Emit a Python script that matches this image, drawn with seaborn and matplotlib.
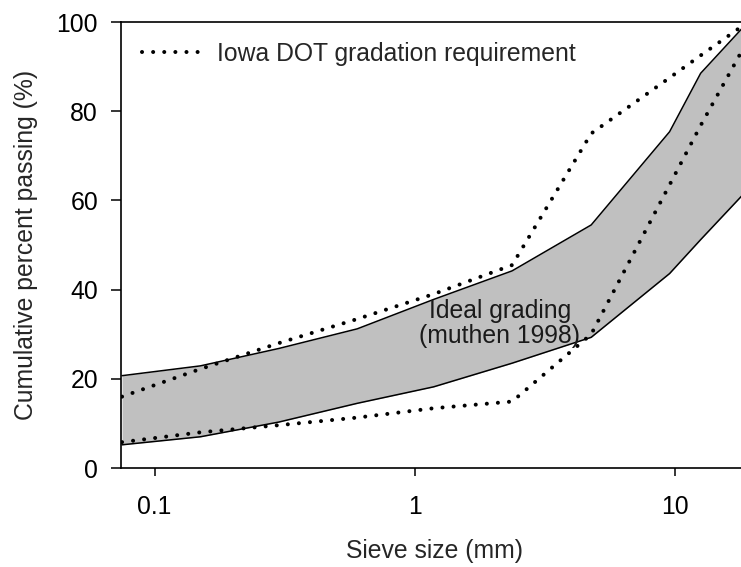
import numpy as np
import pandas as pd
import matplotlib
matplotlib.use("Agg")
import matplotlib.pyplot as plt
import seaborn as sns

# Sieve sizes (mm)
sieve_mm = [0.075, 0.15, 0.3, 0.6, 1.18, 2.36, 4.75, 9.5, 12.5, 19.0]

# Ideal grading envelope (Muthen 1998), cumulative % passing
ideal_upper = [20.7, 22.9, 26.8, 31.2, 37.8, 44.2, 54.5, 75.4, 88.5, 100.0]
ideal_lower = [5.2, 7.0, 10.3, 14.5, 18.2, 23.5, 29.3, 43.6, 51.2, 62.5]

# Iowa DOT gradation requirement limits, cumulative % passing
dot_upper = [16.0, 22.2, 28.0, 33.4, 39.0, 45.5, 75.0, 87.5, 92.5, 100.0]
dot_lower = [5.8, 8.0, 9.6, 11.3, 13.4, 14.9, 30.0, 63.5, 76.8, 96.0]

x_ticks = [0.1, 1, 10]
x_tick_labels = ["0.1", "1", "10"]
y_ticks = [0, 20, 40, 60, 80, 100]

sns.set_theme(style="ticks")
plt.rcParams["font.family"] = ["Liberation Sans", "DejaVu Sans"]
FS = 17.8
plt.rcParams["font.size"] = FS

W, H = 741, 567
fig = plt.figure(figsize=(W / 100, H / 100), dpi=100)
# axes frame in pixels: left 120.5, right 748, top 22, bottom 468
left, right, top, bottom = 120.5, 748.0, 22.0, 468.0
ax = fig.add_axes([left / W, (H - bottom) / H, (right - left) / W, (bottom - top) / H])

env = pd.DataFrame({"sieve": sieve_mm, "upper": ideal_upper, "lower": ideal_lower})
dot = pd.DataFrame({"sieve": sieve_mm, "upper": dot_upper, "lower": dot_lower})

ax.fill_between(env["sieve"], env["lower"], env["upper"], color="#c0c0c0", lw=0, zorder=1)
sns.lineplot(data=env, x="sieve", y="upper", color="black", lw=1.1, ax=ax, zorder=2)
sns.lineplot(data=env, x="sieve", y="lower", color="black", lw=1.1, ax=ax, zorder=2)

DOTS = (0, (0.01, 2.75))
dot_style = dict(color="black", lw=2.9, dashes=False, ax=ax, zorder=3)
sns.lineplot(data=dot, x="sieve", y="upper", **dot_style,
             label="Iowa DOT gradation requirement")
sns.lineplot(data=dot, x="sieve", y="lower", **dot_style)
for ln in ax.lines[2:4]:
    ln.set_linestyle(DOTS)
    ln.set_dash_capstyle("round")

ax.text(2.12, 32.4, "Ideal grading\n(muthen 1998)", ha="center", va="center",
        fontsize=FS, linespacing=1.1, color="#1a1a1a", zorder=4)

ax.set_xscale("log")
ax.set_xlim(0.074, 19.0)
ax.set_ylim(0, 100)
ax.set_xticks(x_ticks)
ax.set_xticklabels(x_tick_labels)
ax.xaxis.set_minor_locator(matplotlib.ticker.NullLocator())
ax.set_yticks(y_ticks)
ax.tick_params(axis="x", direction="out", length=5.8, width=1.1, pad=14, labelsize=FS, colors="black")
ax.tick_params(axis="y", direction="out", length=7.2, width=1.1, pad=9, labelsize=FS, colors="black")
for s in ax.spines.values():
    s.set_linewidth(1.2)
    s.set_color("black")

ax.set_xlabel("Sieve size (mm)", fontsize=FS, labelpad=14)
ax.set_ylabel("Cumulative percent passing (%)", fontsize=FS, labelpad=13)

leg = ax.legend(loc="upper left", bbox_to_anchor=(0.035, 0.955), frameon=False,
                handlelength=2.3, handletextpad=0.72, borderpad=0, borderaxespad=0,
                fontsize=FS)
for h in leg.get_lines():
    h.set_linestyle(DOTS)
    h.set_dash_capstyle("round")
    h.set_linewidth(2.9)

fig.savefig("out.png", dpi=100)
